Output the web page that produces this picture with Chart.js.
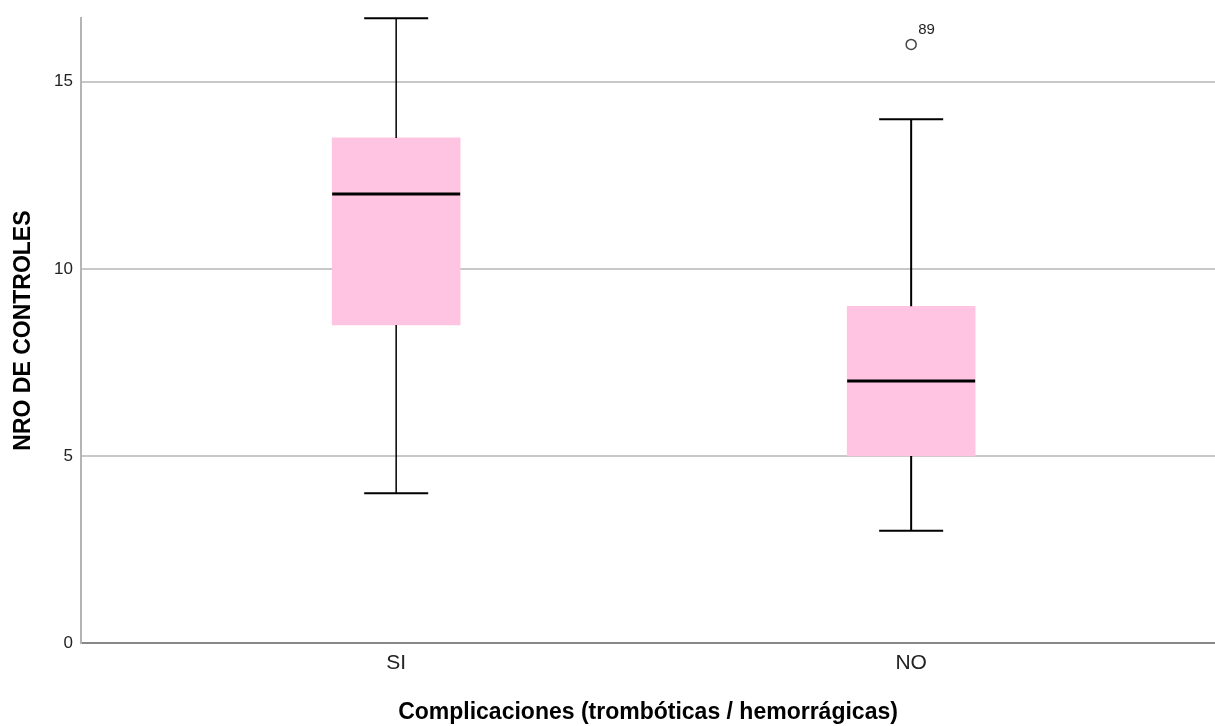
<!DOCTYPE html>
<html>
<head>
<meta charset="utf-8">
<script src="https://cdn.jsdelivr.net/npm/chart.js@4/dist/chart.umd.min.js"></script>
<style>
  html, body { margin: 0; padding: 0; background: #ffffff; overflow: hidden; }
  #wrap { width: 1215px; height: 726px; }
  canvas { display: block; }
</style>
</head>
<body>
<div id="wrap"><canvas id="chart" width="1215" height="726"></canvas></div>
<script>
// Box-plot summary per group
const categories = ['SI', 'NO'];
const q1 = [8.5, 5];
const medians = [12, 7];
const q3 = [13.5, 9];
const whiskerLow = [4, 3];
const whiskerHigh = [16.7, 14];

// Outlying case
const outlierGroup = ['NO'];
const outlierValues = [16];
const outlierLabels = ['89'];

const yTicks = [0, 5, 10, 15];
const yMax = 16.7;

const FONT = "'Liberation Sans', Arial, sans-serif";
const boxWidthPx = 128;

// group index -> x position on the linear axis (1, 2, ...)
const groupX = categories.map((c, i) => i + 1);

const boxData = categories.map((c, i) => ({ x: groupX[i], y: [q1[i], q3[i]] }));
const outlierData = outlierValues.map((v, i) => ({
  x: groupX[categories.indexOf(outlierGroup[i])], y: v
}));

// Whiskers, caps and median lines drawn from the scales
const boxPlotLines = {
  id: 'boxPlotLines',
  afterDatasetsDraw(chart) {
    const { ctx, scales: { x, y } } = chart;
    ctx.save();
    ctx.strokeStyle = '#000000';
    ctx.lineCap = 'butt';
    categories.forEach((c, i) => {
      const cx = x.getPixelForValue(groupX[i]);
      const capHalf = boxWidthPx / 4;
      // whisker stems
      ctx.lineWidth = i === 0 ? 1.5 : 2;
      ctx.beginPath();
      ctx.moveTo(cx, y.getPixelForValue(q3[i]));
      ctx.lineTo(cx, y.getPixelForValue(whiskerHigh[i]));
      ctx.moveTo(cx, y.getPixelForValue(q1[i]));
      ctx.lineTo(cx, y.getPixelForValue(whiskerLow[i]));
      ctx.stroke();
      // caps
      ctx.lineWidth = 2;
      ctx.beginPath();
      [whiskerHigh[i], whiskerLow[i]].forEach(v => {
        const py = y.getPixelForValue(v);
        ctx.moveTo(cx - capHalf, py);
        ctx.lineTo(cx + capHalf, py);
      });
      ctx.stroke();
      // median
      ctx.lineWidth = 3;
      ctx.beginPath();
      const my = y.getPixelForValue(medians[i]);
      ctx.moveTo(cx - boxWidthPx / 2, my);
      ctx.lineTo(cx + boxWidthPx / 2, my);
      ctx.stroke();
    });
    // outlier case labels
    ctx.fillStyle = '#222222';
    ctx.font = '15px ' + FONT;
    ctx.textAlign = 'left';
    ctx.textBaseline = 'middle';
    outlierData.forEach((p, i) => {
      ctx.fillText(outlierLabels[i], x.getPixelForValue(p.x) + 7, y.getPixelForValue(p.y) - 15);
    });
    ctx.restore();
  }
};

new Chart(document.getElementById('chart'), {
  type: 'bar',
  data: {
    datasets: [
      {
        type: 'bar',
        label: 'box',
        data: boxData,
        backgroundColor: 'rgb(255,196,225)',
        borderWidth: 0,
        barThickness: boxWidthPx,
        grouped: false
      },
      {
        type: 'scatter',
        label: 'outliers',
        data: outlierData,
        clip: false,
        pointStyle: 'circle',
        pointRadius: 5,
        pointBorderWidth: 1.5,
        pointBorderColor: '#444444',
        pointBackgroundColor: '#ffffff'
      }
    ]
  },
  options: {
    responsive: false,
    animation: false,
    layout: { autoPadding: false, padding: { top: 16, right: 0, left: 0, bottom: 0 } },
    plugins: {
      legend: { display: false },
      tooltip: { enabled: false }
    },
    scales: {
      x: {
        type: 'linear',
        offset: false,
        min: 0.388,
        max: 2.59,
        afterBuildTicks(scale) { scale.ticks = groupX.map(v => ({ value: v })); },
        afterFit(scale) { scale.height = 83; },
        grid: { display: false, drawTicks: false },
        border: { display: true, color: '#888888', width: 2 },
        ticks: {
          autoSkip: false,
          padding: 8,
          color: '#222222',
          font: { family: FONT, size: 21 },
          callback: (v) => categories[groupX.indexOf(v)] ?? ''
        },
        title: {
          display: true,
          text: 'Complicaciones (trombóticas / hemorrágicas)',
          color: '#000000',
          font: { family: FONT, size: 23, weight: 'bold' },
          padding: { top: 0, bottom: 0 }
        }
      },
      y: {
        type: 'linear',
        min: 0,
        max: yMax,
        afterBuildTicks(scale) { scale.ticks = yTicks.map(v => ({ value: v })); },
        afterFit(scale) { scale.width = 81; },
        grid: {
          color: (ctx) => ctx.tick && ctx.tick.value === 0 ? 'rgba(0,0,0,0)' : '#c8c8c8',
          lineWidth: 2,
          drawTicks: false
        },
        border: { display: true, color: '#b4b4b4', width: 2 },
        ticks: {
          padding: 8,
          color: '#222222',
          font: { family: FONT, size: 17 }
        },
        title: {
          display: true,
          text: 'NRO DE CONTROLES',
          color: '#000000',
          font: { family: FONT, size: 23, weight: 'bold' },
          padding: { top: 10, bottom: 0 }
        }
      }
    }
  },
  plugins: [boxPlotLines]
});
</script>
</body>
</html>
